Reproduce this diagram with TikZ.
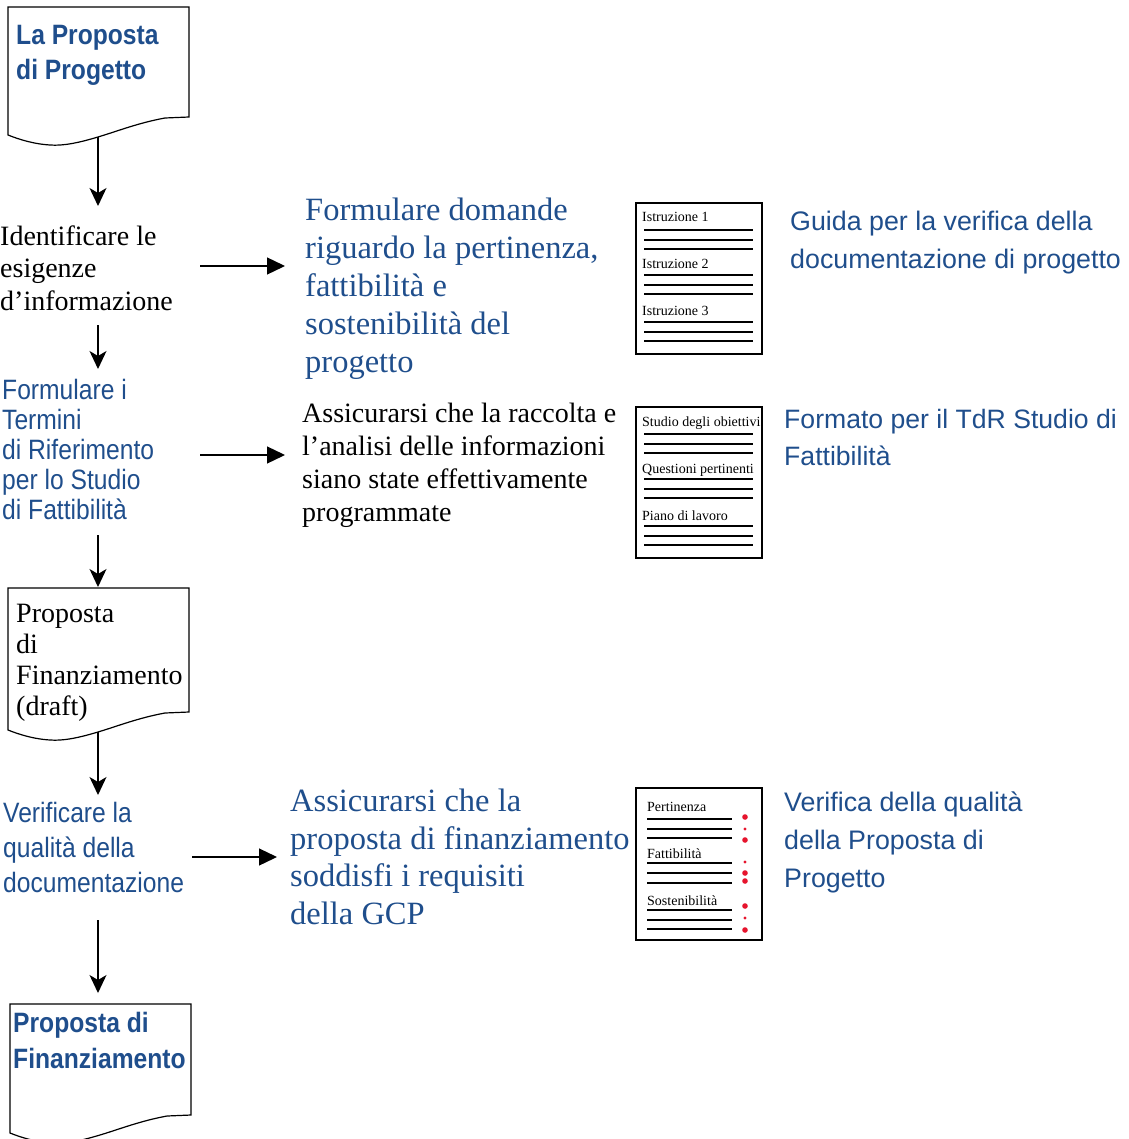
\documentclass[tikz,border=0pt]{standalone}
\usepackage{fontspec}
\setmainfont{Liberation Serif}
\setsansfont{Liberation Sans}
\newfontfamily\narrowsf[FakeStretch=0.88]{Liberation Sans}
\usetikzlibrary{arrows.meta}
\definecolor{docblue}{RGB}{31,78,140}
\definecolor{dotred}{RGB}{230,20,45}
\tikzset{%
  myedge/.style={-{Stealth[length=18pt,width=17pt,inset=5pt]}, line width=1.3pt},
  mysideedge/.style={-{Triangle[length=18pt,width=17pt]}, line width=1.3pt},
  mydoc/.style={line width=1.2pt, draw=black},
  mytext/.style={anchor=base west, inner sep=0pt, align=left},
  serifblue/.style={mytext, text=docblue, font=\fontsize{32.5}{38}\selectfont},
  serifblack/.style={mytext, font=\fontsize{28}{32.5}\selectfont},
  sansblue/.style={mytext, text=docblue, font=\sffamily\fontsize{26.8}{38}\selectfont},
  narrowblue/.style={mytext, text=docblue, font=\narrowsf\fontsize{28}{30}\selectfont},
  iconlabel/.style={mytext, font=\fontsize{14}{14}\selectfont}
}

\begin{document}
\begin{tikzpicture}[x=1pt, y=-1pt]
\useasboundingbox (0,0) rectangle (1128,1139);

% documenti (colonna sinistra)
\foreach \x/\t/\h/\n in {8/7/110/1, 8/588/124/2, 10/1004/111/3} {
  \draw[mydoc, shift={(\x,\t)}] (0,\h+18) -- (0,0) -- (181,0) -- (181,\h) -- (157,\h+1)
    .. controls (130,\h+6) and (110,\h+14) .. (90,\h+20)
    .. controls (70,\h+26) and (55,\h+29) .. (42,\h+28)
    .. controls (25,\h+27) and (10,\h+22) .. (0,\h+18) -- cycle;
  \coordinate (W\n) at (\x+90,\t+\h+20);
}

% testo: la posizione e' la linea di base dell'ultima riga
\node (D1) [narrowblue, font=\bfseries\narrowsf\fontsize{28}{35}\selectfont] at (16,80) {La Proposta\\di Progetto};
\node (D2) [serifblack, font=\fontsize{28}{31}\selectfont] at (16,715) {Proposta\\di\\Finanziamento\\(draft)};
\node (D3) [narrowblue, font=\bfseries\narrowsf\fontsize{28}{36}\selectfont] at (13,1068) {Proposta di\\Finanziamento};

\node (ID) [serifblack] at (0,310) {Identificare le\\esigenze\\d’informazione};
\node (TDR) [narrowblue] at (2,519) {Formulare i\\Termini\\di Riferimento\\per lo Studio\\di Fattibilità};
\node (VQ) [narrowblue, font=\narrowsf\fontsize{28}{35}\selectfont] at (3,892) {Verificare la\\qualità della\\documentazione};

% colonna centrale
\node (Q1) [serifblue] at (305,372) {Formulare domande\\riguardo la pertinenza,\\fattibilità e\\sostenibilità del\\progetto};
\node (Q2) [serifblack, font=\fontsize{28}{32.7}\selectfont] at (302,521) {Assicurarsi che la raccolta e\\l’analisi delle informazioni\\siano state effettivamente\\programmate};
\node (Q3) [serifblue, font=\fontsize{32.5}{37.5}\selectfont] at (290,924) {Assicurarsi che la\\proposta di finanziamento\\soddisfi i requisiti\\della GCP};

% colonna destra
\node (G1) [sansblue] at (790,269) {Guida per la verifica della\\documentazione di progetto};
\node (G2) [sansblue, font=\sffamily\fontsize{26.6}{37}\selectfont] at (784,465) {Formato per il TdR Studio di\\Fattibilità};
\node (G3) [sansblue] at (784,887) {Verifica della qualità\\della Proposta di\\Progetto};

% icone
\foreach \t in {203,407} {
  \draw[line width=1.2pt] (636,\t) rectangle (762,\t+151);
  \foreach \d in {27,37,46,72,82,91,119,129,138} {
    \draw[line width=1.6pt] (644,\t+\d) -- (753,\t+\d);
  }
}
\node (I1) [iconlabel] at (642,222) {Istruzione 1};
\node (I2) [iconlabel] at (642,269) {Istruzione 2};
\node (I3) [iconlabel] at (642,316) {Istruzione 3};
\node (S1) [iconlabel] at (642,426) {Studio degli obiettivi};
\node (S2) [iconlabel] at (642,473) {Questioni pertinenti};
\node (S3) [iconlabel] at (642,520) {Piano di lavoro};

\draw[line width=1.2pt] (636,788) rectangle (762,940);
\foreach \d in {31,41,50,75,85,95,122,132,141} {
  \draw[line width=1.1pt] (647,788+\d) -- (732,788+\d);
}
\foreach \y/\r in {817/2.8, 829/1.6, 840/2.8, 862/1.6, 873/2.8, 881/2.8, 906/2.8, 918/1.6, 930/2.8} {
  \fill[dotred] (745,\y) circle (\r pt);
}
\node (C1) [iconlabel] at (647,811) {Pertinenza};
\node (C2) [iconlabel] at (647,858) {Fattibilità};
\node (C3) [iconlabel] at (647,905) {Sostenibilità};

% frecce
\coordinate (A1) at (98,206);
\coordinate (B2) at (98,325);
\coordinate (A2) at (98,369);
\coordinate (B3) at (98,535);
\coordinate (A3) at (98,587);
\coordinate (A4) at (98,795);
\coordinate (B5) at (98,920);
\coordinate (A5) at (98,993);
\draw[myedge] (W1) -- (A1);
\draw[myedge] (B2) -- (A2);
\draw[myedge] (B3) -- (A3);
\draw[myedge] (W2) -- (A4);
\draw[myedge] (B5) -- (A5);

\coordinate (H1) at (200,266);
\coordinate (K1) at (285,266);
\coordinate (H2) at (200,455);
\coordinate (K2) at (285,455);
\coordinate (H3) at (192,857);
\coordinate (K3) at (277,857);
\draw[mysideedge] (H1) -- (K1);
\draw[mysideedge] (H2) -- (K2);
\draw[mysideedge] (H3) -- (K3);
\end{tikzpicture}
\end{document}
